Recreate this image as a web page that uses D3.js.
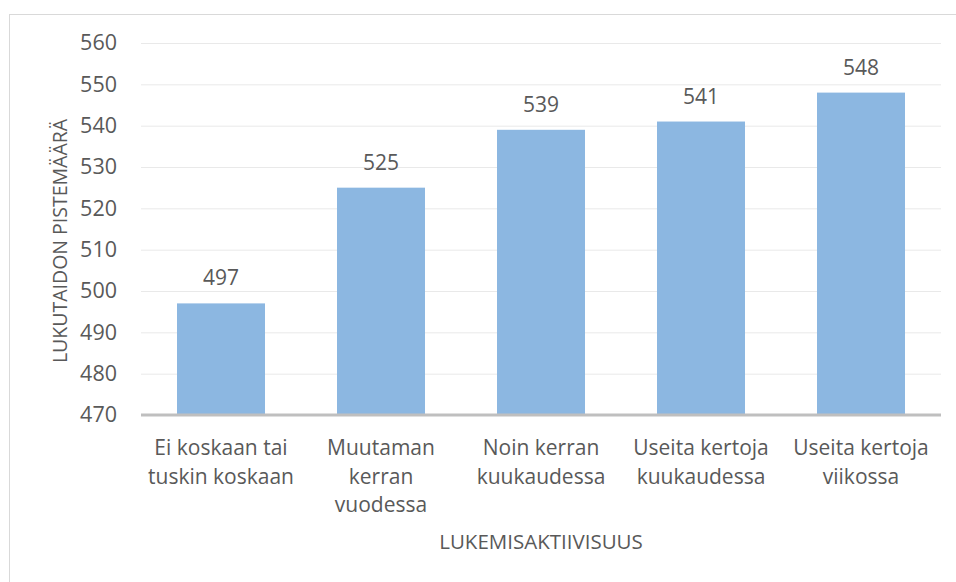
<!DOCTYPE html>
<html>
<head>
<meta charset="utf-8">
<script src="https://cdn.jsdelivr.net/npm/d3@7"></script>
<style>
  body { margin: 0; background: #fff; }
  svg text { font-family: "Open Sans", "Noto Sans", sans-serif; fill: #595959; }
</style>
</head>
<body>
<div id="chart"></div>
<script>
// Data
const categories = [
  ["Ei koskaan tai", "tuskin koskaan"],
  ["Muutaman", "kerran", "vuodessa"],
  ["Noin kerran", "kuukaudessa"],
  ["Useita kertoja", "kuukaudessa"],
  ["Useita kertoja", "viikossa"]
];
const values = [497, 525, 539, 541, 548];
const yTicks = [470, 480, 490, 500, 510, 520, 530, 540, 550, 560];

const width = 956, height = 582;
const margin = { top: 43, right: 15, bottom: 167, left: 141 };

const svg = d3.select("#chart").append("svg")
  .attr("width", width).attr("height", height);

// chart border
svg.append("rect")
  .attr("x", 9.5).attr("y", 14.5)
  .attr("width", 960).attr("height", 600)
  .attr("fill", "none").attr("stroke", "#d9d9d9");

const x = d3.scaleBand()
  .domain(d3.range(values.length))
  .range([margin.left, width - margin.right])
  .paddingInner(0.45).paddingOuter(0.225);

const y = d3.scaleLinear()
  .domain([470, 560])
  .range([height - margin.bottom, margin.top]);

// gridlines + tick labels
const yAxis = d3.axisLeft(y).tickValues(yTicks)
  .tickSize(-(width - margin.right - margin.left)).tickPadding(24);

svg.append("g")
  .attr("transform", `translate(${margin.left},0)`)
  .call(yAxis)
  .call(g => g.select(".domain").remove())
  .call(g => g.selectAll(".tick line").attr("stroke", "#e9e9e9"))
  .call(g => g.selectAll(".tick text")
    .attr("font-size", 21.5).attr("fill", "#595959")
    .style("font-family", "'Open Sans', sans-serif"));

// bars
svg.append("g").selectAll("rect")
  .data(values)
  .join("rect")
  .attr("x", (d, i) => x(i))
  .attr("width", x.bandwidth())
  .attr("y", d => y(d))
  .attr("height", d => y(470) - y(d))
  .attr("fill", "#8cb7e1");

// value labels
svg.append("g").selectAll("text")
  .data(values)
  .join("text")
  .attr("x", (d, i) => x(i) + x.bandwidth() / 2)
  .attr("y", d => y(d) - 18)
  .attr("text-anchor", "middle")
  .attr("font-size", 21)
  .text(d => d);

// baseline
svg.append("line")
  .attr("x1", margin.left).attr("x2", width - margin.right)
  .attr("y1", y(470)).attr("y2", y(470))
  .attr("stroke", "#bfbfbf").attr("stroke-width", 3);

// category labels
const cat = svg.append("g").selectAll("text")
  .data(categories)
  .join("text")
  .attr("text-anchor", "middle")
  .attr("font-size", 21);
cat.selectAll("tspan")
  .data((d, i) => d.map(line => ({ line, i })))
  .join("tspan")
  .attr("x", d => x(d.i) + x.bandwidth() / 2)
  .attr("y", (d, j) => y(470) + 40 + j * 28.7)
  .text(d => d.line);

// axis titles
svg.append("text")
  .attr("x", (margin.left + width - margin.right) / 2)
  .attr("y", 549)
  .attr("text-anchor", "middle")
  .attr("font-size", 20.5)
  .text("LUKEMISAKTIIVISUUS");

svg.append("text")
  .attr("transform", `translate(67,241) rotate(-90)`)
  .attr("text-anchor", "middle")
  .attr("font-size", 19.5)
  .text("LUKUTAIDON PISTEMÄÄRÄ");
</script>
</body>
</html>
